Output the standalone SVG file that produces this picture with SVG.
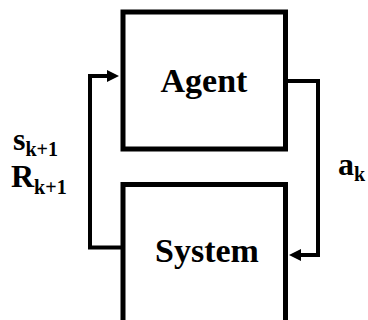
<svg xmlns="http://www.w3.org/2000/svg" width="368" height="320" viewBox="0 0 368 320">
<style>
.box{fill:#fff;stroke:#000;stroke-width:5}
.conn{fill:none;stroke:#000;stroke-width:4;stroke-linejoin:miter}
.t{font-family:"Liberation Serif",serif;font-weight:bold;fill:#000}
.big{font-size:34px}
.lab{font-size:32px}
.sub{font-size:20px}
</style>
<defs>
<marker id="ah" markerUnits="userSpaceOnUse" markerWidth="12" markerHeight="12" refX="0" refY="6" orient="auto" viewBox="0 0 12 12">
<path d="M0,0 L12,6 L0,12 z" fill="#000"/>
</marker>
</defs>
<g id="connectors">
<path class="conn" d="M123,247.5 H90 V76 H107" marker-end="url(#ah)"/>
<path class="conn" d="M285.5,81 H318 V255 H301" marker-end="url(#ah)"/>
</g>
<g id="agent">
<rect class="box" x="123" y="12" width="162.5" height="137"/>
<text class="t big" x="204" y="92" text-anchor="middle">Agent</text>
</g>
<g id="system">
<rect class="box" x="123" y="184.5" width="162.5" height="150"/>
<text class="t big" x="207" y="262" text-anchor="middle">System</text>
</g>
<g id="labels">
<text class="t lab" x="13" y="150">s<tspan class="sub" y="156">k+1</tspan></text>
<text class="t lab" x="11" y="187">R<tspan class="sub" y="194">k+1</tspan></text>
<text class="t lab" x="338" y="175">a<tspan class="sub" y="181">k</tspan></text>
</g>
</svg>
